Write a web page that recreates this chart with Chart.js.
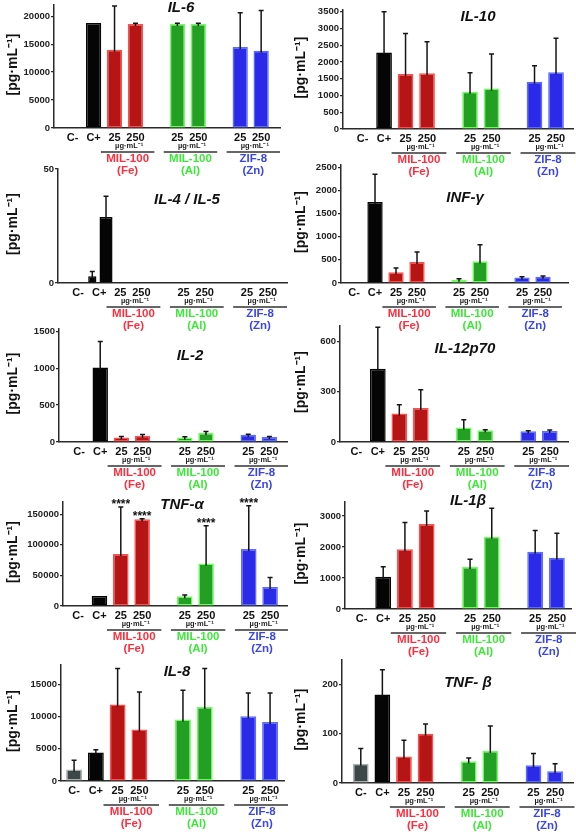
<!DOCTYPE html>
<html>
<head>
<meta charset="utf-8">
<script src="https://cdn.jsdelivr.net/npm/chart.js@4"></script>
<style>
body { margin: 0; background: #fff; }
#fig { position: relative; width: 576px; height: 832px; overflow: hidden; background: #fff; }
#fig canvas { position: absolute; }
</style>
</head>
<body>
<div id="fig"></div>
<script>
// categories shared by every panel (empty = gap between groups)
const categories = ['C-', 'C+', '25', '250', '', '25', '250', '', '25', '250'];
const groupNames = ['MIL-100', 'MIL-100', 'ZIF-8'];
const groupMetals = ['(Fe)', '(Al)', '(Zn)'];
const groupSlots = [[2, 3], [5, 6], [8, 9]];
const doseUnit = 'µg·mL⁻¹';
const yTitle = '[pg·mL⁻¹]';

// values (pg/mL), null = no bar
const il6Values = [0, 18800, 14000, 18600, null, 18600, 18600, null, 14500, 13800];
const il6Errors = [0, 0, 7800, 150, null, 150, 150, null, 6100, 7200];
const il6Ticks = [0, 5000, 10000, 15000, 20000];

const il10Values = [0, 2280, 1640, 1660, null, 1110, 1210, null, 1410, 1690];
const il10Errors = [0, 1220, 1210, 940, null, 570, 1030, null, 480, 1015];
const il10Ticks = [0, 500, 1000, 1500, 2000, 2500, 3000, 3500];

const il4Values = [0, 3, 0, 0, null, 0, 0, null, 0, 0];
const il4Errors = [0, 2, 0, 0, null, 0, 0, null, 0, 0];
const il5Values = [0, 29, 0, 0, null, 0, 0, null, 0, 0];
const il5Errors = [0, 9, 0, 0, null, 0, 0, null, 0, 0];
const il4Ticks = [0, 50];

const infgValues = [0, 1750, 230, 455, null, 70, 468, null, 121, 136];
const infgErrors = [0, 600, 95, 215, null, 20, 360, null, 15, 15];
const infgTicks = [0, 500, 1000, 1500, 2000, 2500];

const il2Values = [0, 1010, 62, 85, null, 62, 121, null, 98, 67];
const il2Errors = [0, 350, 12, 15, null, 10, 20, null, 6, 6];
const il2Ticks = [0, 500, 1000, 1500];

const il12Values = [0, 436, 169, 202, null, 86, 70, null, 64, 66];
const il12Errors = [0, 247, 53, 109, null, 47, 3, null, 3, 6];
const il12Ticks = [0, 300, 600];

const tnfaValues = [0, 16400, 85000, 141600, null, 15900, 69500, null, 93000, 31100];
const tnfaErrors = [0, 0, 77000, 1000, null, 2000, 61600, null, 71000, 15500];
const tnfaTicks = [0, 50000, 100000, 150000];
const tnfaStars = ['', '', '****', '****', '', '', '****', '', '****', ''];

const il1bValues = [0, 1040, 1926, 2742, null, 1355, 2332, null, 1849, 1655];
const il1bErrors = [0, 325, 860, 420, null, 250, 915, null, 680, 790];
const il1bTicks = [0, 1000, 2000, 3000];

const il8Values = [1770, 4410, 11860, 7980, null, 9530, 11490, null, 10050, 9160];
const il8Errors = [1450, 450, 5590, 5840, null, 4550, 5960, null, 3620, 4500];
const il8Ticks = [0, 5000, 10000, 15000];

const tnfbValues = [39, 180, 54, 100, null, 44, 65, null, 36, 24];
const tnfbErrors = [31, 50, 33, 20, null, 7, 51, null, 24, 15];
const tnfbTicks = [0, 100, 200];

// colours per category slot
const barFill = ['#3d4747', '#050505', '#b51515', '#b51515', null, '#23a023', '#23a023', null, '#2a2ae8', '#2a2ae8'];
const barEdge = ['#a9b1b1', '#050505', '#ff4d4d', '#ff4d4d', null, '#6cff5c', '#6cff5c', null, '#5a6cff', '#5a6cff'];
const groupColors = ['#ff2e3e', '#3ee83a', '#3a46e8'];

const FONT = '"Liberation Sans", Arial, sans-serif';

// panel layout (pixel positions on the 576x832 page)
const panels = [
  { title: 'IL-6', series: [[il6Values, il6Errors]], ticks: il6Ticks, max: 22000,
    col: 0, axisX: 54, axisTop: 5, zeroY: 128, axisRight: 280, xMin: -0.89, xMax: 9.9, titleX: 181, titleY: 8 },
  { title: 'IL-10', series: [[il10Values, il10Errors]], ticks: il10Ticks, max: 3550,
    col: 288, axisX: 343, axisTop: 10, zeroY: 129, axisRight: 573, xMin: -0.91, xMax: 9.79, titleX: 478, titleY: 17 },
  { title: 'IL-4 / IL-5', series: [[il4Values, il4Errors, 0.6], [il5Values, il5Errors, 0.95]], ticks: il4Ticks, max: 50, catPct: 1.3,
    col: 0, axisX: 58, axisTop: 169, zeroY: 283, axisRight: 287, xMin: -0.95, xMax: 9.9, titleX: 187, titleY: 200 },
  { title: 'INF-γ', series: [[infgValues, infgErrors]], ticks: infgTicks, max: 2550,
    col: 288, axisX: 341, axisTop: 165, zeroY: 283, axisRight: 568, xMin: -0.62, xMax: 10.19, titleX: 465, titleY: 198 },
  { title: 'IL-2', series: [[il2Values, il2Errors]], ticks: il2Ticks, max: 1530,
    col: 0, axisX: 59, axisTop: 329, zeroY: 442, axisRight: 288, xMin: -0.95, xMax: 9.88, titleX: 190, titleY: 356 },
  { title: 'IL-12p70', series: [[il12Values, il12Errors]], ticks: il12Ticks, max: 690,
    col: 288, axisX: 340, axisTop: 326, zeroY: 442, axisRight: 568, xMin: -0.76, xMax: 9.85, titleX: 465, titleY: 349 },
  { title: 'TNF-α', series: [[tnfaValues, tnfaErrors]], ticks: tnfaTicks, max: 170000, stars: tnfaStars,
    col: 0, axisX: 63, axisTop: 502, zeroY: 606, axisRight: 288, xMin: -0.71, xMax: 9.84, titleX: 182, titleY: 505 },
  { title: 'IL-1β', series: [[il1bValues, il1bErrors]], ticks: il1bTicks, max: 3450,
    col: 288, axisX: 345, axisTop: 502, zeroY: 609, axisRight: 571, xMin: -0.76, xMax: 9.65, titleX: 468, titleY: 501 },
  { title: 'IL-8', series: [[il8Values, il8Errors]], ticks: il8Ticks, max: 18000,
    col: 0, axisX: 61, axisTop: 665, zeroY: 781, axisRight: 284, xMin: -0.6, xMax: 9.64, titleX: 177, titleY: 672 },
  { title: 'TNF- β', series: [[tnfbValues, tnfbErrors]], ticks: tnfbTicks, max: 250,
    col: 288, axisX: 342, axisTop: 660, zeroY: 783, axisRight: 573, xMin: -0.87, xMax: 9.83, titleX: 468, titleY: 683 }
];

const X_AXIS_H = 52;
const fig = document.getElementById('fig');

function makeExtras(p, canvasTop) {
  return {
    id: 'extras',
    afterDatasetsDraw(chart) {
      const { ctx, scales: { y } } = chart;
      ctx.save();
      ctx.strokeStyle = '#151515';
      ctx.lineWidth = 1.5;
      chart.data.datasets.forEach((ds, d) => {
        chart.getDatasetMeta(d).data.forEach((bar, k) => {
          const pt = ds.data[k];
          if (!pt.err) return;
          const top = y.getPixelForValue(pt.y + pt.err);
          ctx.beginPath();
          ctx.moveTo(bar.x, Math.min(bar.y + 2, y.getPixelForValue(0)));
          ctx.lineTo(bar.x, top);
          ctx.moveTo(bar.x - 2.5, top);
          ctx.lineTo(bar.x + 2.5, top);
          ctx.stroke();
        });
      });
      ctx.restore();
    },
    afterDraw(chart) {
      const { ctx, scales: { x, y } } = chart;
      const zero = y.getPixelForValue(0);
      ctx.save();
      ctx.textAlign = 'center';
      ctx.textBaseline = 'middle';

      // panel title
      ctx.fillStyle = '#111';
      ctx.font = 'italic bold 15px ' + FONT;
      ctx.fillText(p.title, p.titleX - p.col, p.titleY - canvasTop);

      // y axis title
      ctx.save();
      ctx.translate(13, (p.axisTop + p.zeroY) / 2 - 2 - canvasTop);
      ctx.rotate(-Math.PI / 2);
      ctx.font = 'bold 14px ' + FONT;
      ctx.fillText(yTitle, 0, 0);
      ctx.restore();

      // dose units, group lines and names
      groupSlots.forEach(([a, b], g) => {
        const mid = (a + b) / 2;
        ctx.fillStyle = '#222';
        ctx.font = 'bold 7.5px ' + FONT;
        ctx.fillText(doseUnit, x.getPixelForValue(mid + 0.2), zero + 18);

        ctx.strokeStyle = '#333';
        ctx.lineWidth = 1.5;
        ctx.beginPath();
        ctx.moveTo(x.getPixelForValue(a - 0.65), zero + 24);
        ctx.lineTo(x.getPixelForValue(b + 0.9), zero + 24);
        ctx.stroke();

        const cx = x.getPixelForValue(mid + 0.125);
        ctx.fillStyle = groupColors[g];
        ctx.font = 'bold 11.5px ' + FONT;
        ctx.fillText(groupNames[g], cx, zero + 31);
        ctx.fillText(groupMetals[g], cx, zero + 43);
      });

      // significance stars
      if (p.stars) {
        const ds = chart.data.datasets[0];
        ctx.fillStyle = '#111';
        ctx.font = 'bold 12px ' + FONT;
        ctx.textBaseline = 'alphabetic';
        p.stars.forEach((s, i) => {
          if (!s) return;
          const pt = ds.data.find(d => d.x === i);
          const top = y.getPixelForValue(pt.y + pt.err);
          ctx.fillText(s, x.getPixelForValue(i), top + 1.5);
        });
      }
      ctx.restore();
    }
  };
}

panels.forEach(p => {
  const canvasTop = p.axisTop - 14;
  const height = p.zeroY - canvasTop + X_AXIS_H;
  const cv = document.createElement('canvas');
  cv.width = 288;
  cv.height = height;
  cv.style.left = p.col + 'px';
  cv.style.top = canvasTop + 'px';
  fig.appendChild(cv);

  const datasets = p.series.map(([values, errors, barPct]) => ({
    data: values.map((v, i) => (v === null ? null : { x: i, y: v, err: errors[i] })).filter(Boolean),
    backgroundColor: c => barFill[c.raw.x],
    borderColor: c => barEdge[c.raw.x],
    borderWidth: 1.5,
    borderSkipped: false,
    inflateAmount: 0,
    barPercentage: barPct || 0.73,
    categoryPercentage: p.catPct || 1
  }));

  new Chart(cv, {
    type: 'bar',
    data: { datasets },
    options: {
      responsive: false,
      animation: false,
      layout: { padding: { top: 14, right: p.col + 288 - p.axisRight, left: 0, bottom: 0 } },
      plugins: { legend: { display: false }, tooltip: { enabled: false } },
      scales: {
        x: {
          type: 'linear',
          offset: false,
          min: p.xMin,
          max: p.xMax,
          bounds: 'data',
          afterBuildTicks: s => { s.ticks = categories.map((c, i) => ({ value: i })); },
          afterFit: s => { s.height = X_AXIS_H; },
          grid: { display: false, offset: false, drawTicks: false, tickLength: 0 },
          border: { display: true, color: '#2a2a2a', width: 1.5 },
          ticks: {
            autoSkip: false, maxRotation: 0, padding: 3, color: '#111',
            font: { family: FONT, size: 11, weight: 'bold' },
            callback: v => categories[v]
          }
        },
        y: {
          min: 0,
          max: p.max,
          afterBuildTicks: s => { s.ticks = p.ticks.map(v => ({ value: v })); },
          afterFit: s => { s.width = p.axisX - p.col; },
          grid: { drawOnChartArea: false, drawTicks: true, tickLength: 3, color: '#2a2a2a', lineWidth: 1.2 },
          border: { display: true, color: '#2a2a2a', width: 1.5 },
          ticks: {
            padding: 1, color: '#222',
            font: { family: FONT, size: 9.5, weight: 'bold' },
            callback: v => String(v)
          }
        }
      }
    },
    plugins: [makeExtras(p, canvasTop)]
  });
});
</script>
</body>
</html>
